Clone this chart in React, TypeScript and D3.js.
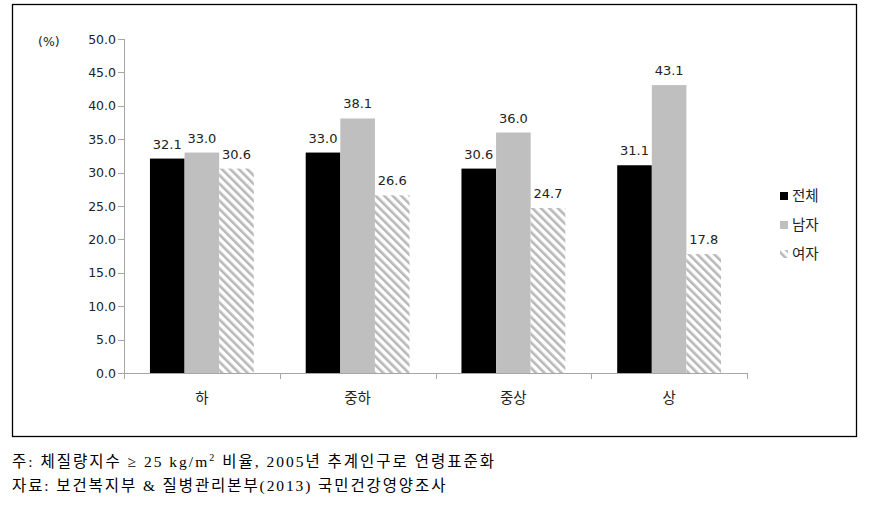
import React from "react";
import * as d3 from "d3";

const categories = ["하", "중하", "중상", "상"];
const seriesNames = ["전체", "남자", "여자"];
const total = [32.1, 33.0, 30.6, 31.1];
const male = [33.0, 38.1, 36.0, 43.1];
const female = [30.6, 26.6, 24.7, 17.8];
const yTicks = [0, 5, 10, 15, 20, 25, 30, 35, 40, 45, 50];
const note1a = "주: 체질량지수 ≥ 25 kg/m";
const note1b = "2";
const note1c = " 비율, 2005년 추계인구로 연령표준화";
const note2 = "자료: 보건복지부 & 질병관리본부(2013) 국민건강영양조사";

const seriesData = [total, male, female];
const fills = ["#000000", "#bfbfbf", "url(#hatch)"];

export default function App() {
  const W = 878, H = 516;
  const x0 = 124, x1 = 747, yTop = 39, yBot = 373;
  const x = d3.scaleBand<string>().domain(categories).range([x0, x1]).paddingInner(0).paddingOuter(0);
  const y = d3.scaleLinear().domain([0, 50]).range([yBot, yTop]);
  const bw = x.bandwidth() / 4.5;
  const font = "'DejaVu Sans', 'Noto Sans CJK KR', sans-serif";
  const kfont = "'Noto Sans CJK KR', sans-serif";
  const serif = "'Liberation Serif', 'Noto Sans CJK KR', serif";
  return (
    <svg width={W} height={H} style={{ position: "absolute", left: 0, top: 0, background: "#fff" }}>
      <defs>
        <pattern id="hatch" patternUnits="userSpaceOnUse" width="6" height="6" patternTransform="rotate(-45)">
          <rect width="6" height="6" fill="#fff" />
          <rect x="0" y="0" width="2.6" height="6" fill="#b8b8b8" />
        </pattern>
      </defs>
      <rect x={0} y={0} width={W} height={H} fill="#fff" />
      <rect x={12.5} y={4.5} width={844} height={432} fill="none" stroke="#000" strokeWidth={1.3} />
      {/* y axis */}
      <line x1={x0 + 0.5} x2={x0 + 0.5} y1={yTop} y2={yBot} stroke="#a6a6a6" />
      {yTicks.map((t) => (
        <g key={t}>
          <line x1={x0 - 6} x2={x0} y1={Math.round(y(t)) + 0.5} y2={Math.round(y(t)) + 0.5} stroke="#a6a6a6" />
          <text x={x0 - 8} y={y(t) + 4.5} textAnchor="end" fontSize={12.5} fontFamily={font} fill="#222">
            {t.toFixed(1)}
          </text>
        </g>
      ))}
      <text x={38} y={46} fontSize={12.5} fontFamily={font} fill="#222">(%)</text>
      {/* x axis */}
      <line x1={x0} x2={x1} y1={yBot + 0.5} y2={yBot + 0.5} stroke="#a6a6a6" />
      {[...categories.map((c) => x(c)!), x1].map((p, i) => (
        <line key={i} x1={Math.round(p) + 0.5} x2={Math.round(p) + 0.5} y1={yBot} y2={yBot + 6} stroke="#a6a6a6" />
      ))}
      {categories.map((c) => (
        <text key={c} x={x(c)! + x.bandwidth() / 2} y={403} textAnchor="middle" fontSize={14.5} fontFamily={kfont} fill="#222">
          {c}
        </text>
      ))}
      {/* bars */}
      {seriesData.map((arr, si) =>
        arr.map((v, ci) => {
          const bx = x(categories[ci])! + bw * 0.75 + si * bw;
          return (
            <g key={si + "-" + ci}>
              <rect x={bx} y={y(v)} width={bw} height={yBot - y(v)} fill={fills[si]} />
              <text x={bx + bw / 2} y={y(v) - 10} textAnchor="middle" fontSize={13} fontFamily={font} fill="#222">
                {v.toFixed(1)}
              </text>
            </g>
          );
        })
      )}
      {/* legend */}
      {seriesNames.map((n, i) => (
        <g key={n} transform={`translate(780, ${196 + i * 29})`}>
          <rect x={0} y={-4} width={8} height={8} fill={fills[i]} />
          <text x={12} y={5} fontSize={14.5} fontFamily={kfont} fill="#222">{n}</text>
        </g>
      ))}
      {/* notes */}
      <text x={12} y={467} fontSize={15.5} fontFamily={serif} fill="#000" letterSpacing={2}>
        {note1a}
        <tspan dy={-6} fontSize={10}>{note1b}</tspan>
        <tspan dy={6}>{note1c}</tspan>
      </text>
      <text x={12} y={491} fontSize={15.5} fontFamily={serif} fill="#000" letterSpacing={1.9}>{note2}</text>
    </svg>
  );
}
